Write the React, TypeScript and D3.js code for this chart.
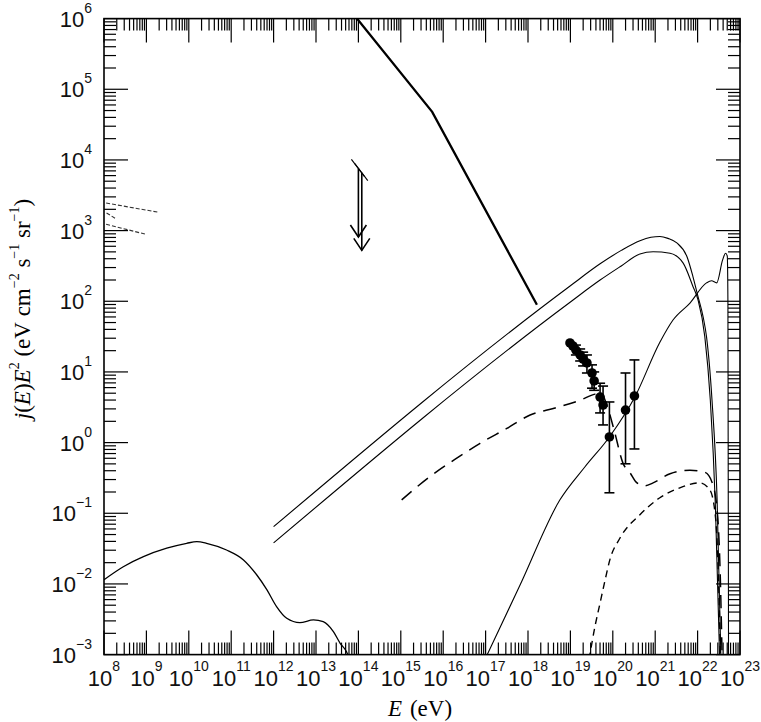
import React from "react";
import * as d3 from "d3";

// ---- data (log10 E [eV], log10 j(E)E^2) ----
const kneeLogE = [13.9, 15.74, 18.21];
const kneeLogJ = [6.05, 4.68, 1.95];

const upperLogE = [12.0, 19.0, 19.7, 20.2, 20.64, 20.9, 21.11, 21.3, 21.51, 21.75, 21.89, 22.01, 22.13, 22.21, 22.34, 22.46, 22.55];
const upperLogJ = [-1.19, 2.22, 2.53, 2.72, 2.857, 2.905, 2.917, 2.89, 2.825, 2.63, 2.35, 2.065, 1.78, 1.5, 0.6, -0.81, -3.05];

const lowerLogE = [12.0, 19.0, 19.7, 20.2, 20.64, 20.95, 21.35, 21.66, 21.89, 22.01, 22.17, 22.3, 22.42, 22.52];
const lowerLogJ = [-1.42, 1.99, 2.3, 2.5, 2.67, 2.7, 2.68, 2.54, 2.21, 2.02, 1.5, 0.6, -0.9, -3.05];

const riseLogE = [16.96, 17.81, 18.75, 19.34, 19.92, 20.52, 21.11, 21.42, 21.82, 22.21, 22.33, 22.45, 22.59, 22.66, 22.7, 22.715, 22.73];
const riseLogJ = [-3.1, -2.02, -0.813, -0.345, 0.08, 0.645, 1.42, 1.735, 1.975, 2.26, 2.29, 2.26, 2.585, 2.68, 2.64, 2.0, -3.1];

const longDashLogE = [15.02, 15.69, 16.32, 16.87, 17.5, 18.05, 18.64, 19.23, 19.58, 19.72, 19.86, 20.03, 20.24, 20.41, 20.57, 20.76, 20.95, 21.35, 21.82, 22.17, 22.34, 22.46, 22.53, 22.58];
const longDashLogJ = [-0.81, -0.48, -0.22, -0.01, 0.2, 0.39, 0.49, 0.6, 0.686, 0.7, 0.53, 0.18, -0.29, -0.43, -0.57, -0.61, -0.57, -0.44, -0.39, -0.42, -0.56, -0.95, -1.79, -3.1];

const shortDashLogE = [19.44, 19.58, 19.7, 19.82, 19.93, 20.17, 20.64, 21.11, 21.58, 22.05, 22.29, 22.43, 22.5, 22.54];
const shortDashLogJ = [-3.07, -2.6, -2.27, -1.94, -1.66, -1.35, -1.02, -0.78, -0.64, -0.57, -0.67, -1.1, -2.09, -3.07];

const lowLogE = [8.0, 8.455, 8.93, 9.48, 9.95, 10.19, 10.42, 10.89, 11.29, 11.6, 11.84, 12.07, 12.31, 12.62, 12.94, 13.17, 13.41, 13.57, 13.72, 13.8];
const lowLogJ = [-1.94, -1.756, -1.614, -1.495, -1.425, -1.402, -1.425, -1.52, -1.66, -1.87, -2.08, -2.32, -2.486, -2.548, -2.51, -2.534, -2.675, -2.84, -2.96, -3.08];

const gammaLogE = [[8.05, 9.28], [8.05, 8.97], [8.06, 8.3]];
const gammaLogJ = [[3.39, 3.26], [3.09, 2.95], [3.25, 3.16]];

const limitLogE = [14.0, 14.08];
const limitTopLogJ = [3.88, 3.82];
const limitEndLogJ = [2.91, 2.72];

const ptLogE = [18.99, 19.06, 19.13, 19.23, 19.3, 19.39, 19.51, 19.56, 19.7, 19.77, 19.92, 20.3, 20.51];
const ptLogJ = [1.41, 1.367, 1.31, 1.24, 1.183, 1.127, 0.985, 0.872, 0.645, 0.532, 0.08, 0.46, 0.66];
const ptHi = [null, null, 1.38, 1.325, 1.28, 1.24, 1.1, 1.0, 0.84, 0.8, 0.575, 0.985, 1.17];
const ptLo = [null, null, 1.24, 1.155, 1.085, 0.985, 0.77, 0.74, 0.42, 0.25, -0.71, -0.3, -0.09];

const xTickExp = d3.range(8, 24);
const yTickExp = d3.range(-3, 7);
const minorMult = d3.range(2, 10);

const W = 761, H = 722;
const L = 104, R = 740, T = 18.6, B = 654.6;

export default function App() {
  const x = d3.scaleLog().domain([1e8, 1e23]).range([L, R]);
  const y = d3.scaleLog().domain([1e-3, 1e6]).range([B, T]);
  const X = (le: number) => x(Math.pow(10, le));
  const Y = (lj: number) => y(Math.pow(10, lj));
  const mk = (es: number[], js: number[], curve: any = d3.curveMonotoneX) =>
    d3.line<number[]>().x(d => X(d[0])).y(d => Y(d[1])).curve(curve)(es.map((e, i) => [e, js[i]])) || "";

  const xMinor: number[] = [];
  for (let d = 8; d < 23; d++) for (const k of minorMult) xMinor.push(k * Math.pow(10, d));
  const yMinor: number[] = [];
  for (let d = -3; d < 6; d++) for (const k of minorMult) yMinor.push(k * Math.pow(10, d));

  const sans = "'Liberation Sans', Arial, Helvetica, sans-serif";
  const serif = "'Liberation Serif', 'Times New Roman', serif";
  const tw = 1.2;

  return (
    <svg width={W} height={H} style={{ position: "absolute", left: 0, top: 0, background: "#fff" }}>
      <defs>
        <clipPath id="plot"><rect x={L} y={T} width={R - L} height={B - T} /></clipPath>
      </defs>
      <rect x={0} y={0} width={W} height={H} fill="#fff" />

      {/* ticks */}
      <g stroke="#000" strokeWidth={tw}>
        {xTickExp.map(n => {
          const px = x(Math.pow(10, n));
          return <g key={"xM" + n}><line x1={px} x2={px} y1={B} y2={B - 24} /><line x1={px} x2={px} y1={T} y2={T + 24} /></g>;
        })}
        {xMinor.map((v, i) => {
          const px = x(v);
          return <g key={"xm" + i}><line x1={px} x2={px} y1={B} y2={B - 12} /><line x1={px} x2={px} y1={T} y2={T + 12} /></g>;
        })}
        {yTickExp.map(n => {
          const py = y(Math.pow(10, n));
          return <g key={"yM" + n}><line x1={L} x2={L + 24} y1={py} y2={py} /><line x1={R} x2={R - 24} y1={py} y2={py} /></g>;
        })}
        {yMinor.map((v, i) => {
          const py = y(v);
          return <g key={"ym" + i}><line x1={L} x2={L + 12} y1={py} y2={py} /><line x1={R} x2={R - 12} y1={py} y2={py} /></g>;
        })}
      </g>
      <rect x={L} y={T} width={R - L} height={B - T} fill="none" stroke="#000" strokeWidth={1.6} />

      {/* tick labels */}
      <g fontFamily={sans} fill="#111">
        {xTickExp.map(n => (
          <text key={"xl" + n} x={x(Math.pow(10, n))} y={686} textAnchor="middle" fontSize={22}>
            <tspan>10</tspan><tspan dy={-15} fontSize={14}>{n}</tspan>
          </text>
        ))}
        {yTickExp.map(n => (
          <text key={"yl" + n} x={92} y={y(Math.pow(10, n)) + 8} textAnchor="end" fontSize={22}>
            <tspan>10</tspan><tspan dy={-14} fontSize={14}>{n < 0 ? "\u2212" + (-n) : String(n)}</tspan>
          </text>
        ))}
      </g>

      {/* axis titles */}
      <text x={420} y={716} textAnchor="middle" fontFamily={serif} fontSize={23} fill="#000">
        <tspan fontStyle="italic">E</tspan><tspan dx={8}>(eV)</tspan>
      </text>
      <text transform="translate(30,309) rotate(-90)" textAnchor="middle" fontFamily={serif} fontSize={23} fill="#000">
        <tspan fontStyle="italic">j</tspan><tspan>(</tspan><tspan fontStyle="italic">E</tspan><tspan>)</tspan>
        <tspan fontStyle="italic">E</tspan><tspan dy={-11} fontSize={14}>2</tspan>
        <tspan dy={11}>{"\u00a0(eV\u00a0cm"}</tspan><tspan dy={-11} fontSize={14}>{"\u22122"}</tspan>
        <tspan dy={11}>{"\u00a0s"}</tspan><tspan dy={-11} fontSize={14}>{"\u22121"}</tspan>
        <tspan dy={11}>{"\u00a0sr"}</tspan><tspan dy={-11} fontSize={14}>{"\u22121"}</tspan>
        <tspan dy={11}>)</tspan>
      </text>

      {/* curves */}
      <g clipPath="url(#plot)" fill="none" stroke="#000">
        <path d={mk(kneeLogE, kneeLogJ, d3.curveLinear)} strokeWidth={2.3} />
        <path d={mk(upperLogE, upperLogJ)} strokeWidth={1.1} />
        <path d={mk(lowerLogE, lowerLogJ)} strokeWidth={1.1} />
        <path d={mk(riseLogE, riseLogJ)} strokeWidth={1.1} />
        <path d={mk(longDashLogE, longDashLogJ)} strokeWidth={1.5} strokeDasharray="13,8" />
        <path d={mk(shortDashLogE, shortDashLogJ)} strokeWidth={1.4} strokeDasharray="7,5" />
        <path d={mk(lowLogE, lowLogJ)} strokeWidth={1.3} />
        {gammaLogE.map((es, i) => (
          <path key={"g" + i} d={mk(es, gammaLogJ[i], d3.curveLinear)} strokeWidth={1.1} stroke="#333" strokeDasharray="4,2" />
        ))}

        {/* upper limits */}
        {limitLogE.map((le, i) => {
          const px = X(le), pt = Y(limitTopLogJ[i]), pe = Y(limitEndLogJ[i]);
          return (
            <g key={"lim" + i} strokeWidth={1.6}>
              <line x1={px - 7} y1={pt - 9} x2={px + 6} y2={pt + 8} strokeWidth={1.1} />
              <line x1={px} y1={pt} x2={px} y2={pe} />
              <polyline points={`${px - 8},${pe - 12} ${px},${pe} ${px + 8},${pe - 12}`} />
            </g>
          );
        })}

        {/* data points */}
        {ptLogE.map((le, i) => {
          const px = X(le), py = Y(ptLogJ[i]);
          const hi = ptHi[i], lo = ptLo[i];
          return (
            <g key={"p" + i}>
              {hi !== null && lo !== null && (
                <g strokeWidth={1.6}>
                  <line x1={px} x2={px} y1={Y(hi)} y2={Y(lo)} />
                  <line x1={px - 5} x2={px + 5} y1={Y(hi)} y2={Y(hi)} />
                  <line x1={px - 5} x2={px + 5} y1={Y(lo)} y2={Y(lo)} />
                </g>
              )}
              <circle cx={px} cy={py} r={4.8} fill="#000" stroke="none" />
            </g>
          );
        })}
      </g>
    </svg>
  );
}
